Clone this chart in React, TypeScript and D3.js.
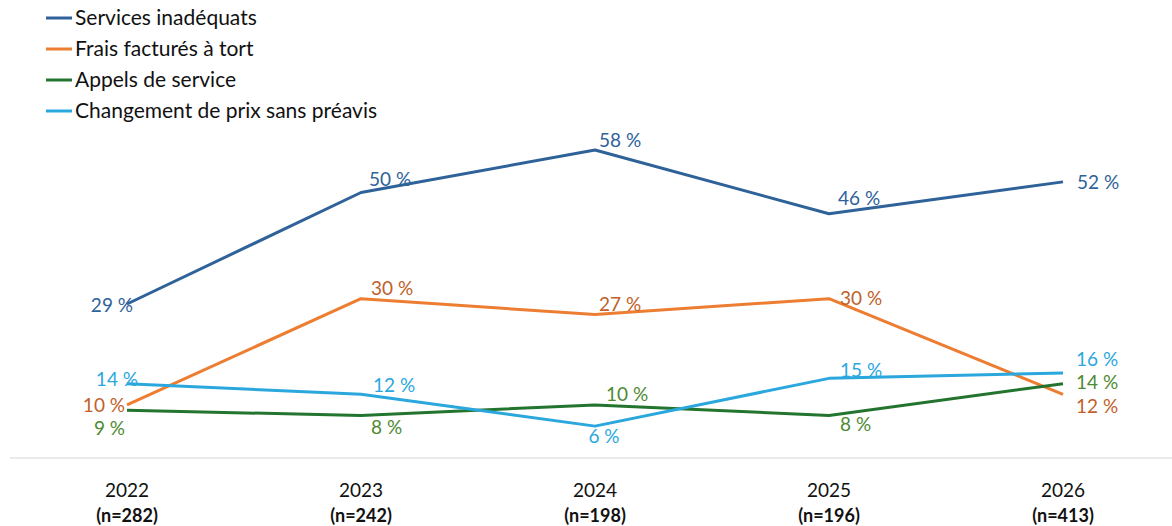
import React from "react";
import * as d3 from "d3";

const years = ["2022", "2023", "2024", "2025", "2026"];
const sampleSizes = ["(n=282)", "(n=242)", "(n=198)", "(n=196)", "(n=413)"];
const seriesNames = [
  "Services inadéquats",
  "Frais facturés à tort",
  "Appels de service",
  "Changement de prix sans préavis",
];
const servicesInadequats = [29, 50, 58, 46, 52];
const fraisFactures = [10, 30, 27, 30, 12];
const appelsService = [9, 8, 10, 8, 14];
const changementPrix = [14, 12, 6, 15, 16];

const lineColors = ["#2E6299", "#ED7D31", "#23742E", "#2AA7DD"];
const labelColors = ["#2E6299", "#C0612B", "#4E8A32", "#2AA7DD"];

// label placement: [anchor, dx, dy(center offset)]
type Place = [string, number, number];
const placements: Place[][] = [
  [["end", 6, 1], ["start", 8, -13], ["start", 4, -10], ["start", 9, -15], ["start", 14, 0]],
  [["end", -2, 0], ["start", 10, -10], ["start", 4, -10], ["start", 11, 0], ["start", 13, 12]],
  [["end", -2, 18], ["start", 10, 12], ["start", 11, -11], ["start", 11, 9], ["start", 13, -1]],
  [["end", 11, -4], ["start", 12, -9], ["middle", 9, 10], ["start", 11, -8], ["start", 13, -14]],
];

const W = 1172;
const H = 526;
const FONT = "Lato, 'Open Sans', sans-serif";

export default function App() {
  const allSeries = [servicesInadequats, fraisFactures, appelsService, changementPrix];
  const x = d3.scalePoint<string>().domain(years).range([127, 1063]);
  const y = d3.scaleLinear().domain([0, 58]).range([458, 150]);
  const line = d3
    .line<number>()
    .x((_, i) => x(years[i]) as number)
    .y((d) => y(d));

  return (
    <svg width={W} height={H} style={{ position: "absolute", left: 0, top: 0, fontFamily: FONT }}>
      <rect width={W} height={H} fill="#fff" />
      {/* legend */}
      {seriesNames.map((name, i) => {
        const ly = 18 + i * 31;
        return (
          <g key={name}>
            <line x1={46} x2={72} y1={ly} y2={ly} stroke={lineColors[i]} strokeWidth={3} />
            <text x={75} y={ly} dy="0.35em" fontSize={21} fill="#111">
              {name}
            </text>
          </g>
        );
      })}
      {/* axis line */}
      <line x1={10} x2={1172} y1={y(0)} y2={y(0)} stroke="#e3e3e3" strokeWidth={1.5} />
      {years.map((yr, i) => (
        <g key={yr}>
          <text x={x(yr)} y={490} textAnchor="middle" dy="0.35em" fontSize={19} fill="#111">
            {yr}
          </text>
          <text x={x(yr)} y={516} textAnchor="middle" dy="0.35em" fontSize={18} fontWeight="bold" fill="#111">
            {sampleSizes[i]}
          </text>
        </g>
      ))}
      {/* lines */}
      {allSeries.map((s, si) => (
        <path key={si} d={line(s) || ""} fill="none" stroke={lineColors[si]} strokeWidth={3} strokeLinejoin="round" />
      ))}
      {/* labels */}
      {allSeries.map((s, si) =>
        s.map((v, i) => {
          const [anchor, dx, dy] = placements[si][i];
          return (
            <text
              key={`${si}-${i}`}
              x={(x(years[i]) as number) + dx}
              y={y(v) + dy}
              dy="0.35em"
              textAnchor={anchor}
              fontSize={19}
              fill={labelColors[si]}
            >
              {`${v} %`}
            </text>
          );
        })
      )}
    </svg>
  );
}
